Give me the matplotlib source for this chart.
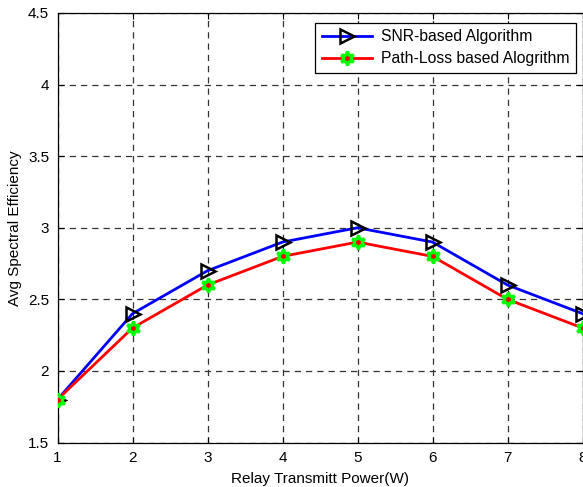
import matplotlib
matplotlib.use("Agg")
import matplotlib.pyplot as plt

x = [1, 2, 3, 4, 5, 6, 7, 8]
snr = [1.8, 2.4, 2.7, 2.9, 3.0, 2.9, 2.6, 2.4]
pathloss = [1.8, 2.3, 2.6, 2.8, 2.9, 2.8, 2.5, 2.3]
xticks = [1, 2, 3, 4, 5, 6, 7, 8]
yticks = [1.5, 2, 2.5, 3, 3.5, 4, 4.5]
yticklabels = ["1.5", "2", "2.5", "3", "3.5", "4", "4.5"]

plt.rcParams['font.family'] = ['Liberation Sans', 'DejaVu Sans']
fig = plt.figure(figsize=(5.83, 4.87), dpi=100)
W, H = 583, 487
ax = fig.add_axes([57.5 / W, 1 - 442.5 / H, (582.5 - 57.5) / W, (442.5 - 13) / H])

ax.plot(x, snr, color='blue', lw=2, marker='>', ms=10, mfc='none', mec='black', mew=1.8,
        label='SNR-based Algorithm', zorder=3)
ax.plot(x, pathloss, color='red', lw=2, marker=(6, 1, 0), ms=10, mfc='red', mec='#00ff00', mew=2.2,
        label='Path-Loss based Alogrithm', zorder=3)

ax.set_xlim(1, 8)
ax.set_ylim(1.5, 4.5)
ax.set_xticks(xticks)
ax.set_yticks(yticks)
ax.set_yticklabels(yticklabels)
ax.tick_params(direction='in', labelsize=11, length=4, top=True, right=True, colors='black', pad=6)
ax.grid(True, linestyle=(0, (5, 4)), color='#333333', lw=0.9)
for s in ax.spines.values():
    s.set_linewidth(0.9)
ax.set_xlabel('Relay Transmitt Power(W)', fontsize=11, labelpad=5)
ax.set_ylabel('Avg Spectral Efficiency', fontsize=11, labelpad=4)

leg = ax.legend(loc='upper right', bbox_to_anchor=(0.9876, 0.9767), fontsize=11.3, fancybox=False,
                framealpha=1, edgecolor='black', handlelength=3.2, borderpad=0.4, labelspacing=0.45,
                handletextpad=0.6, borderaxespad=0)
leg.get_frame().set_linewidth(0.9)

fig.savefig('out.png', dpi=100)
